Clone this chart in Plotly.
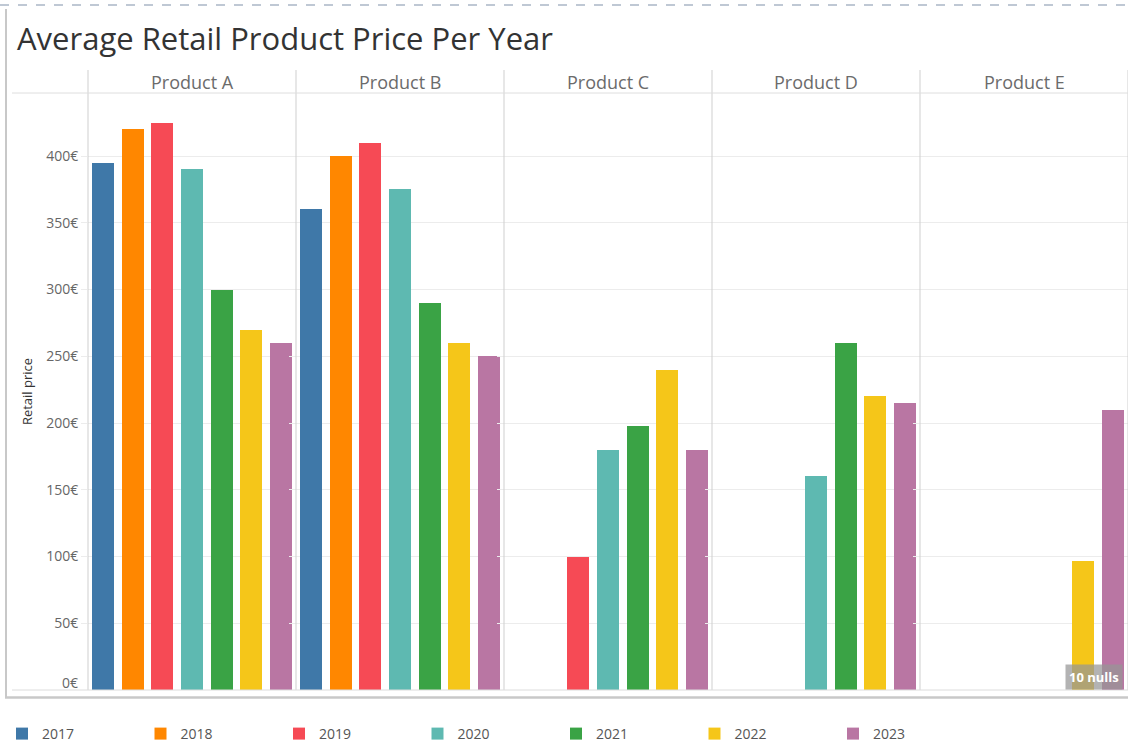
import plotly.graph_objects as go
from plotly.subplots import make_subplots

# ---- data -------------------------------------------------------------
products = ["Product A", "Product B", "Product C", "Product D", "Product E"]
years = ["2017", "2018", "2019", "2020", "2021", "2022", "2023"]
year_colors = ["#3f78a8", "#ff8700", "#f64a55", "#5eb9b1", "#3aa345", "#f5c619", "#b976a3"]

# average retail price per product (rows) and year (columns); None = no data
price_product_a = [395, 420, 425, 390, 300, 270, 260]
price_product_b = [360, 400, 410, 375, 290, 260, 250]
price_product_c = [None, None, 100, 180, 198, 240, 180]
price_product_d = [None, None, None, 160, 260, 220, 215]
price_product_e = [None, None, None, None, None, 97, 210]
prices = [price_product_a, price_product_b, price_product_c, price_product_d, price_product_e]

y_ticks = [0, 50, 100, 150, 200, 250, 300, 350, 400]
y_tick_labels = [f"{v}€" for v in y_ticks]

# ---- page geometry (pixels) --------------------------------------------
W, H = 1128, 742
L, R, T, B = 88, 0, 93, 52
PW, PH = W - L - R, H - T - B


def px_x(px):
    return (px - L) / PW


def px_y(py):
    return (H - B - py) / PH


FONT = "Open Sans"
GRID = "#ececec"
SEP = "#cfcfcf"
TICK_FONT = dict(family=FONT, size=14, color="#666666")

fig = make_subplots(rows=1, cols=len(products), shared_yaxes=True,
                    horizontal_spacing=0)

for ci, product in enumerate(products):
    for yi, year in enumerate(years):
        fig.add_trace(
            go.Bar(
                x=[year], y=[prices[ci][yi]],
                name=year, legendgroup=year, showlegend=(ci == 0),
                marker=dict(color=year_colors[yi], line=dict(width=0)),
                width=0.74,
                hovertemplate=f"{product}<br>{year}: %{{y}}€<extra></extra>",
            ),
            row=1, col=ci + 1,
        )
    fig.update_xaxes(
        type="category", categoryorder="array", categoryarray=years,
        range=[-0.5, len(years) - 0.5], showticklabels=False, ticks="",
        showgrid=False, zeroline=False, showline=False, fixedrange=True,
        row=1, col=ci + 1,
    )

# the zero label sits just above the baseline, so it is drawn separately
axis_tick_vals = y_ticks[1:]
axis_tick_text = y_tick_labels[1:]

fig.update_yaxes(
    range=[0, 447.2], tickvals=axis_tick_vals, ticktext=axis_tick_text,
    showgrid=True, gridcolor=GRID, gridwidth=1, zeroline=False,
    ticks="outside", ticklen=6, tickcolor=GRID,
    tickfont=TICK_FONT, showline=False,
)
fig.update_yaxes(
    title=dict(text="Retail price", standoff=10,
               font=dict(family=FONT, size=13, color="#333333")),
    row=1, col=1,
)

# ---- decoration: panel headers, separators, frame -----------------------
shapes = []
annotations = []
n = len(products)
for i in range(n + 1):
    xp = i / n
    shapes.append(dict(type="line", xref="paper", yref="paper",
                       x0=xp, x1=xp, y0=0, y1=px_y(70),
                       line=dict(color=SEP, width=1)))
for i, product in enumerate(products):
    annotations.append(dict(text=product, xref="paper", yref="paper",
                            x=(i + 0.5) / n, y=px_y(82), xanchor="center",
                            yanchor="middle", showarrow=False,
                            font=dict(family=FONT, size=18, color="#6b6b6b")))

annotations.append(dict(text=y_tick_labels[0], xref="paper", yref="y",
                        x=px_x(80), y=y_ticks[0], xanchor="right",
                        yanchor="middle", yshift=8, showarrow=False,
                        font=TICK_FONT))

# header bottom rule and baseline
shapes.append(dict(type="line", xref="paper", yref="paper",
                   x0=px_x(12), x1=px_x(W), y0=1, y1=1,
                   line=dict(color="#dedede", width=1)))
shapes.append(dict(type="line", xref="paper", yref="paper",
                   x0=px_x(12), x1=px_x(W), y0=0, y1=0,
                   line=dict(color="#dcdcdc", width=1)))
# outer frame: left and bottom
shapes.append(dict(type="line", xref="paper", yref="paper",
                   x0=px_x(6), x1=px_x(6), y0=px_y(698), y1=px_y(9),
                   line=dict(color="#c8c8c8", width=2)))
shapes.append(dict(type="line", xref="paper", yref="paper",
                   x0=px_x(5), x1=px_x(W), y0=px_y(697.5), y1=px_y(697.5),
                   line=dict(color="#c8c8c8", width=2.5)))
# top dashed rule
shapes.append(dict(type="line", xref="paper", yref="paper",
                   x0=px_x(0), x1=px_x(W), y0=px_y(5), y1=px_y(5),
                   line=dict(color="#aab6c6", width=1.5, dash="dash")))

# title
annotations.append(dict(text="Average Retail Product Price Per Year",
                        xref="paper", yref="paper", x=px_x(15), y=px_y(38),
                        xanchor="left", yanchor="middle", showarrow=False,
                        font=dict(family=FONT, size=31, color="#333333")))

# null badge
null_count = sum(v is None for row in prices for v in row)
annotations.append(dict(text=f"<b>{null_count} nulls</b>", xref="paper",
                        yref="paper", x=px_x(1123), y=px_y(677),
                        xanchor="right", yanchor="middle", showarrow=False,
                        bgcolor="rgba(150,150,150,0.72)", borderpad=3,
                        font=dict(family=FONT, size=13, color="#ffffff")))

fig.update_layout(
    width=W, height=H,
    margin=dict(l=L, r=R, t=T, b=B, pad=0, autoexpand=False),
    paper_bgcolor="white", plot_bgcolor="white",
    barmode="group", bargap=0,
    shapes=shapes, annotations=annotations,
    showlegend=True,
    legend=dict(orientation="h", x=px_x(2), xanchor="left",
                y=px_y(734), yanchor="middle",
                entrywidth=93.5, entrywidthmode="pixels",
                font=dict(family=FONT, size=14, color="#555555"),
                bgcolor="rgba(0,0,0,0)"),
    font=dict(family=FONT),
    hovermode="closest",
)

fig.write_html("out.html")
